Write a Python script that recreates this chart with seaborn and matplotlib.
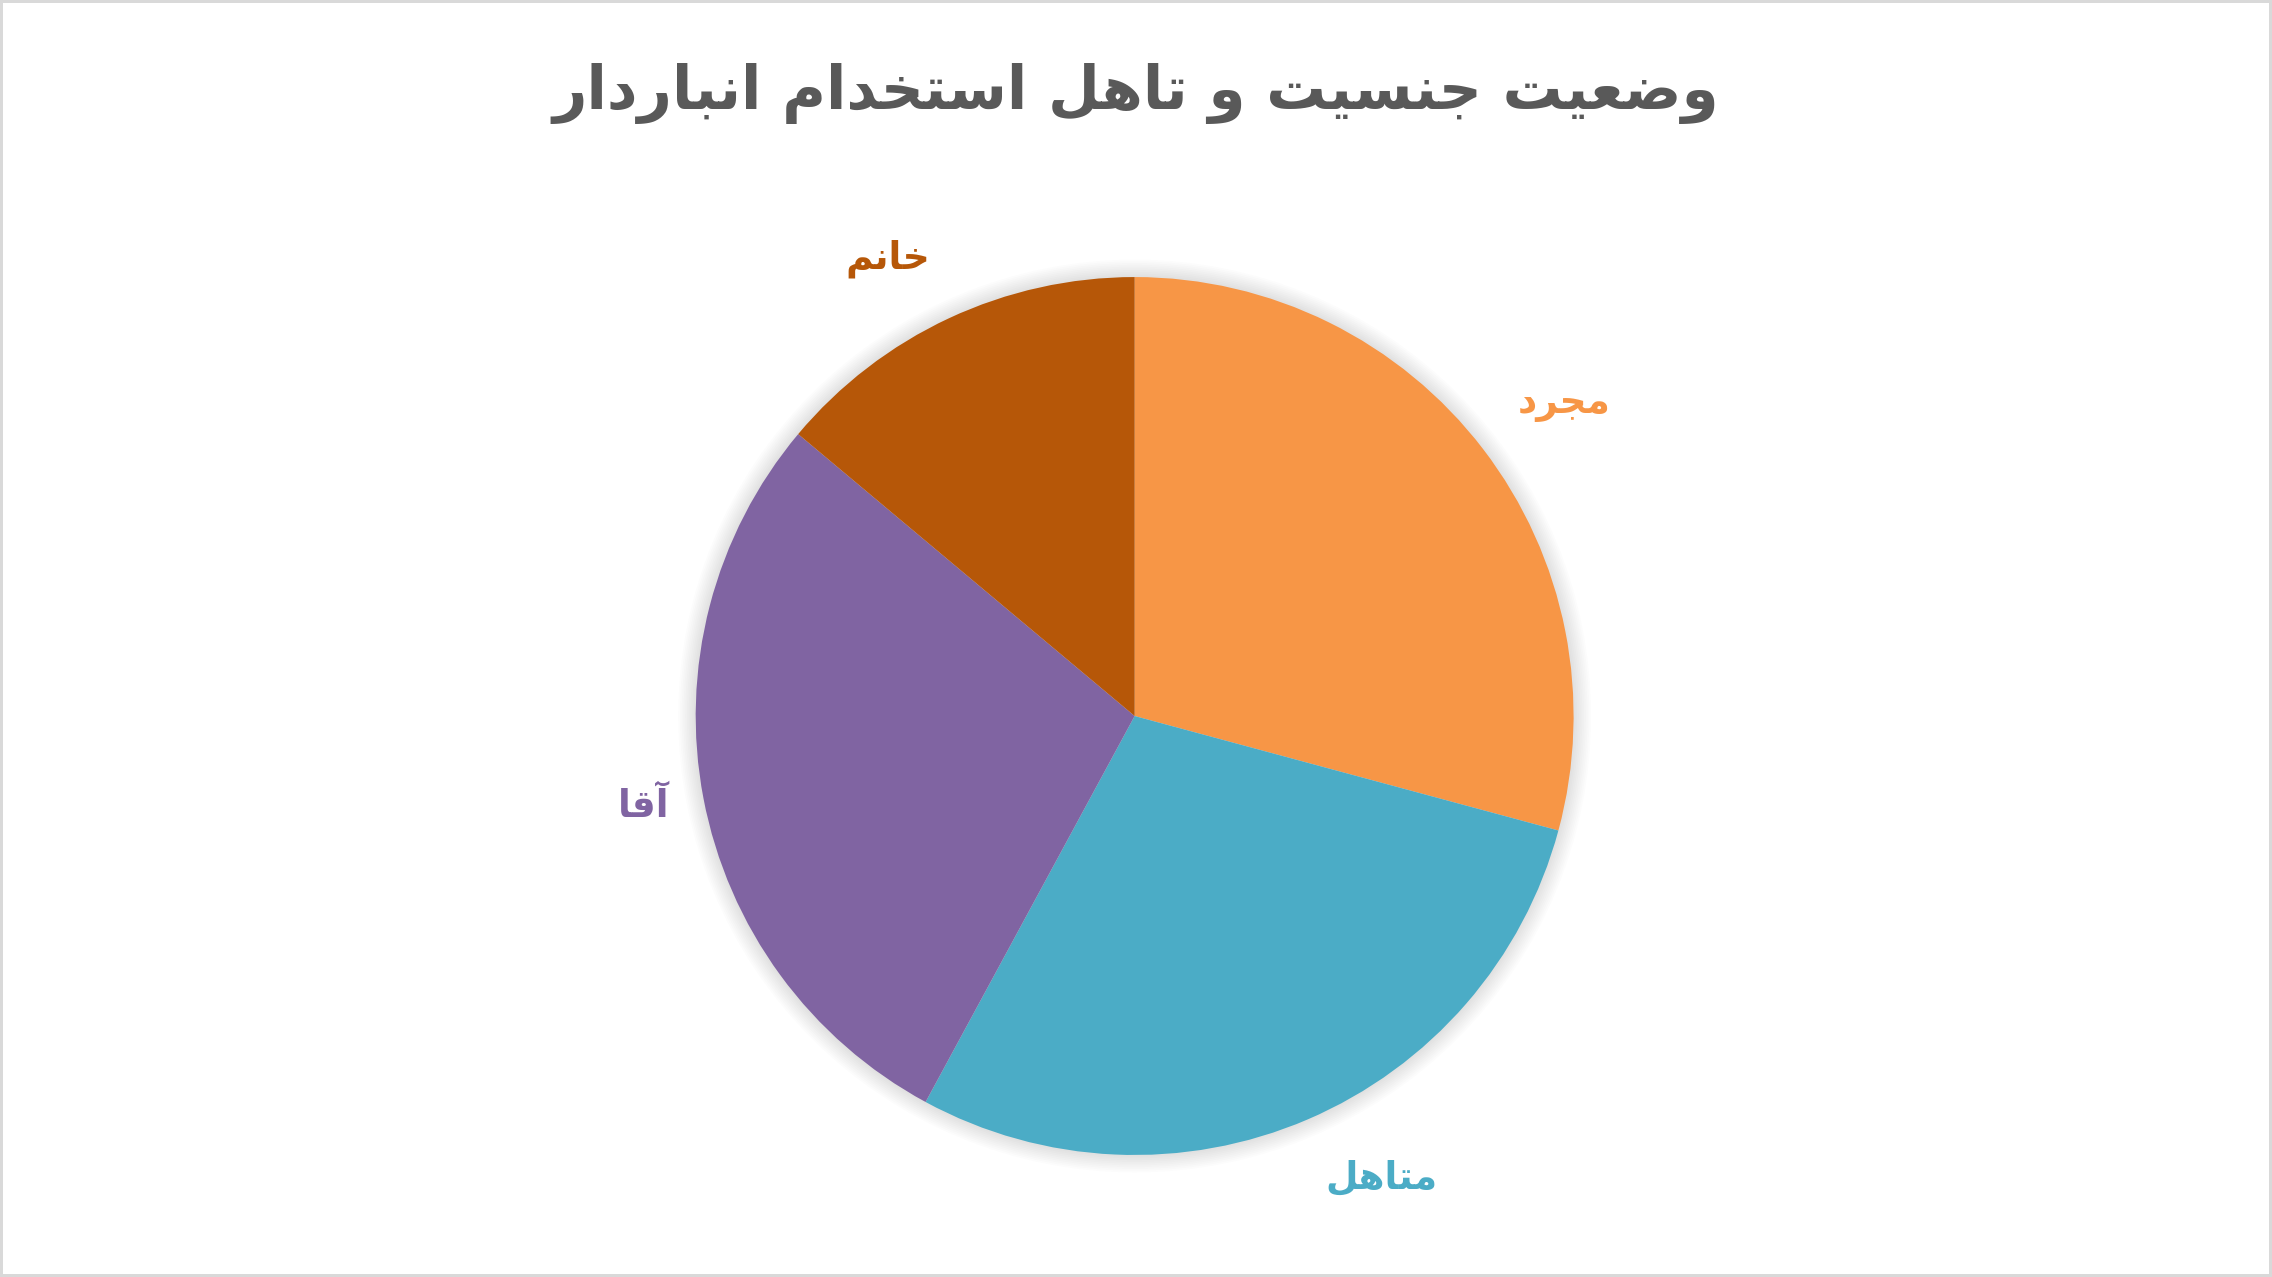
import numpy as np
import seaborn as sns
import matplotlib.pyplot as plt
from matplotlib.patches import Circle

# chart data (percent shares)
labels = ['مجرد', 'متاهل', 'آقا', 'خانم']
values = [29.2, 28.7, 28.2, 13.9]
colors = ['#F79646', '#4BACC6', '#8064A2', '#B65708']
title = 'وضعیت جنسیت و تاهل استخدام انباردار'

# minimal arabic/persian shaping (matplotlib has no text shaping)
FORMS = {
    'ا': (0xFE8D, 0xFE8E, None, None), 'آ': (0xFE81, 0xFE82, None, None),
    'ب': (0xFE8F, 0xFE90, 0xFE91, 0xFE92), 'ت': (0xFE95, 0xFE96, 0xFE97, 0xFE98),
    'ج': (0xFE9D, 0xFE9E, 0xFE9F, 0xFEA0), 'خ': (0xFEA5, 0xFEA6, 0xFEA7, 0xFEA8),
    'د': (0xFEA9, 0xFEAA, None, None), 'ر': (0xFEAD, 0xFEAE, None, None),
    'س': (0xFEB1, 0xFEB2, 0xFEB3, 0xFEB4), 'ض': (0xFEBD, 0xFEBE, 0xFEBF, 0xFEC0),
    'ع': (0xFEC9, 0xFECA, 0xFECB, 0xFECC), 'ق': (0xFED5, 0xFED6, 0xFED7, 0xFED8),
    'ل': (0xFEDD, 0xFEDE, 0xFEDF, 0xFEE0), 'م': (0xFEE1, 0xFEE2, 0xFEE3, 0xFEE4),
    'ن': (0xFEE5, 0xFEE6, 0xFEE7, 0xFEE8), 'ه': (0xFEE9, 0xFEEA, 0xFEEB, 0xFEEC),
    'و': (0xFEED, 0xFEEE, None, None), 'ی': (0xFBFC, 0xFBFD, 0xFEF3, 0xFEF4),
}


def shape(s):
    out = []
    for i, ch in enumerate(s):
        if ch not in FORMS:
            out.append(ch)
            continue
        f = FORMS[ch]
        prev = s[i - 1] if i > 0 else ''
        nxt = s[i + 1] if i + 1 < len(s) else ''
        jp = prev in FORMS and FORMS[prev][2] is not None
        jn = nxt in FORMS and f[2] is not None
        if jp and jn:
            out.append(chr(f[3]))
        elif jp:
            out.append(chr(f[1]))
        elif jn:
            out.append(chr(f[2]))
        else:
            out.append(chr(f[0]))
    return ''.join(out)[::-1]


sns.set_theme(style='white')
plt.rcParams['font.family'] = ['DejaVu Sans']

fig = plt.figure(figsize=(22.72, 12.77), dpi=100, edgecolor='#D9D9D9', linewidth=3)
ax = fig.add_axes([0.3062, 0.0955, 0.3864, 0.6876])

# soft shadow behind pie
for k in range(10):
    ax.add_patch(Circle((0, 0), 1.0 + 0.004 * (k + 1), color='#000000',
                        alpha=0.012, lw=0, zorder=0, clip_on=False))

wedges, _ = ax.pie(values, colors=colors, startangle=90, counterclock=False,
                   wedgeprops=dict(linewidth=0))
for w in wedges:
    w.set_zorder(2)

# outside-end labels: nearest corner of the label box sits just off the rim
for w, lab, c in zip(wedges, labels, colors):
    ang = np.deg2rad((w.theta1 + w.theta2) / 2)
    x, y = 1.1 * np.cos(ang), 1.1 * np.sin(ang)
    ha = 'left' if x > 0 else 'right'
    if abs(np.sin(ang)) < 0.3:
        va = 'center'
        x += 0.02
    else:
        va = 'bottom' if y > 0 else 'top'
    ax.text(x, y, shape(lab), color=c, fontsize=27, fontweight='bold',
            ha=ha, va=va, clip_on=False)

ax.set_xlim(-1, 1)
ax.set_ylim(-1, 1)
ax.set_aspect('equal')
ax.axis('off')

fig.text(0.5, 0.927, shape(title), ha='center', va='center', fontsize=43,
         fontweight='bold', color='#595959')

fig.savefig('out.png', dpi=100, edgecolor=fig.get_edgecolor())
